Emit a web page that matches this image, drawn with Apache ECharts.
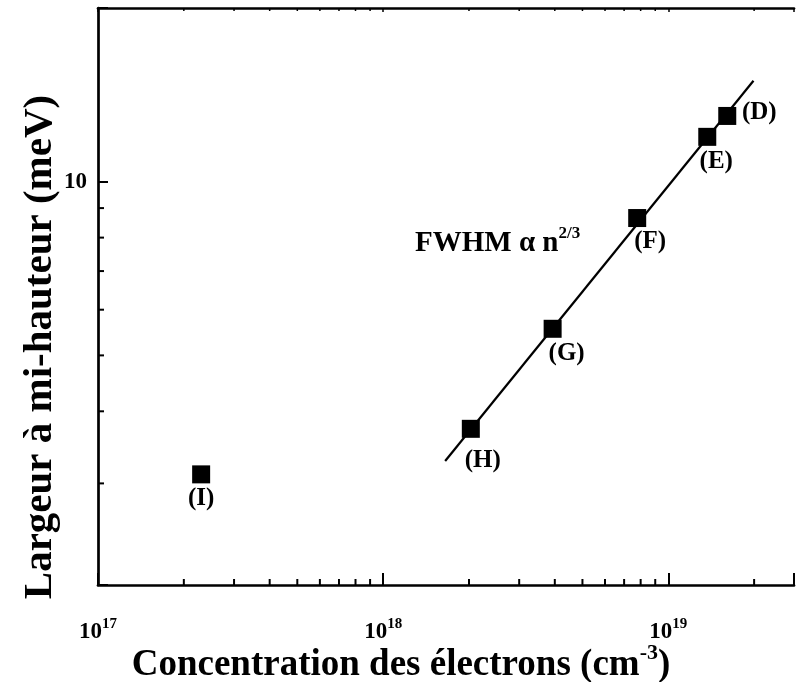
<!DOCTYPE html>
<html>
<head>
<meta charset="utf-8">
<script src="https://cdn.jsdelivr.net/npm/echarts@6/dist/echarts.min.js"></script>
<style>html,body{margin:0;padding:0;background:#fff}#c{width:797px;height:682px}</style>
</head>
<body>
<div id="c"></div>
<script>
// ---- data ----
const sampleNames = ['(D)', '(E)', '(F)', '(G)', '(H)', '(I)'];
const concentration = [1.61e19, 1.37e19, 7.78e18, 3.93e18, 2.03e18, 2.30e17];
const fwhm = [13.0, 11.96, 8.65, 5.56, 3.73, 3.11];
const fitX = [1.65e18, 1.99e19];
const fitY = [3.28, 14.96];
const xMinorTicks = [2e17,3e17,4e17,5e17,6e17,7e17,8e17,9e17,2e18,3e18,4e18,5e18,6e18,7e18,8e18,9e18,2e19];
const yMinorTicks = [3,4,5,6,7,8,9];
const xRange = [1e17, 2.76e19];
const yRange = [2, 20];

// ---- styles (not data) ----
const labelOffsets = {'(D)':[32,-3], '(E)':[9,25], '(F)':[13,24], '(G)':[14,25], '(H)':[12,32], '(I)':[0,24]};
const serif = '"Liberation Serif","Times New Roman",serif';

const chart = echarts.init(document.getElementById('c'), null, {renderer:'canvas'});

function isDecade(v){const l=Math.log10(v);return Math.abs(l-Math.round(l))<1e-6;}

const scatterData = sampleNames.map((n,i)=>({
  value:[concentration[i], fwhm[i]],
  label:{show:true, position:'inside', offset:labelOffsets[n], formatter:n,
         color:'#000', fontFamily:serif, fontWeight:'bold', fontSize:25}
}));

const option = {
  animation:false,
  backgroundColor:'#fff',
  grid:{left:98, right:0, top:8, bottom:97, containLabel:false},
  xAxis:[{
    type:'log', logBase:10, min:xRange[0], max:xRange[1], position:'bottom',
    axisLine:{show:true, onZero:false, lineStyle:{color:'#000', width:2.7}},
    axisTick:{show:true, inside:true, length:12, lineStyle:{color:'#000', width:2}},
    splitLine:{show:false},
    axisLabel:{margin:32, formatter:function(v){ if(!isDecade(v)) return ''; return '{b|10}{s|'+Math.round(Math.log10(v))+'}'; },
      rich:{b:{fontFamily:serif, fontWeight:'bold', fontSize:23, color:'#000'},
            s:{fontFamily:serif, fontWeight:'bold', fontSize:15, color:'#000', padding:[0,0,16,0]}}}
  },{
    type:'log', logBase:10, min:xRange[0], max:xRange[1], position:'top',
    axisLine:{show:true, onZero:false, lineStyle:{color:'#000', width:2.7}},
    axisTick:{show:true, inside:true, length:4, lineStyle:{color:'#000', width:1.5}},
    splitLine:{show:false}, axisLabel:{show:false}
  }],
  yAxis:[{
    type:'log', logBase:10, min:yRange[0], max:yRange[1],
    axisLine:{show:true, onZero:false, lineStyle:{color:'#000', width:2.7}},
    axisTick:{show:true, inside:true, length:10, lineStyle:{color:'#000', width:2}},
    splitLine:{show:false},
    axisLabel:{margin:11, color:'#000', fontFamily:serif, fontWeight:'bold', fontSize:23,
      formatter:function(v){ return isDecade(v) ? String(Math.round(v)) : ''; }}
  }],
  series:[
    {type:'line', data:fitX.map((x,i)=>[x,fitY[i]]), showSymbol:false, symbol:'none',
     lineStyle:{color:'#000', width:2.2}, z:2, silent:true},
    {type:'scatter', data:scatterData, symbol:'rect', symbolSize:18, itemStyle:{color:'#000', opacity:1}, z:3},
    {type:'custom', clip:false, data:xMinorTicks.map(v=>[v, yRange[0]]), z:4,
     renderItem:function(params, api){
       const v = api.value(0);
       const b = api.coord([v, yRange[0]]);
       const t = api.coord([v, yRange[1]]);
       return {type:'group', children:[
         {type:'line', shape:{x1:b[0], y1:b[1], x2:b[0], y2:b[1]-6}, style:{stroke:'#000', lineWidth:2}},
         {type:'line', shape:{x1:t[0], y1:t[1], x2:t[0], y2:t[1]+3}, style:{stroke:'#000', lineWidth:1.5}}
       ]};
     }},
    {type:'custom', clip:false, data:yMinorTicks.map(v=>[xRange[0], v]), z:4,
     renderItem:function(params, api){
       const v = api.value(1);
       const p = api.coord([xRange[0], v]);
       return {type:'line', shape:{x1:p[0], y1:p[1], x2:p[0]+6, y2:p[1]}, style:{stroke:'#000', lineWidth:2}};
     }}
  ],
  graphic:[
    {type:'text', x:415, y:244, style:{
      text:'{m|FWHM α n}{s|2/3}', verticalAlign:'middle',
      rich:{m:{fontFamily:serif, fontWeight:'bold', fontSize:29, fill:'#000'},
            s:{fontFamily:serif, fontWeight:'bold', fontSize:17, fill:'#000', padding:[0,0,20,0]}}}},
    {type:'text', x:401, y:665, style:{
      text:'{m|Concentration des électrons (cm}{s|-3}{m|)}', align:'center', verticalAlign:'middle',
      rich:{m:{fontFamily:serif, fontWeight:'bold', fontSize:37, fill:'#000'},
            s:{fontFamily:serif, fontWeight:'bold', fontSize:22, fill:'#000', padding:[0,0,24,0]}}}},
    {type:'text', x:40, y:347, rotation:Math.PI/2, style:{
      text:'Largeur à mi-hauteur (meV)', align:'center', verticalAlign:'middle',
      fontFamily:serif, fontWeight:'bold', fontSize:41, fill:'#000'}}
  ]
};
chart.setOption(option);
</script>
</body>
</html>
